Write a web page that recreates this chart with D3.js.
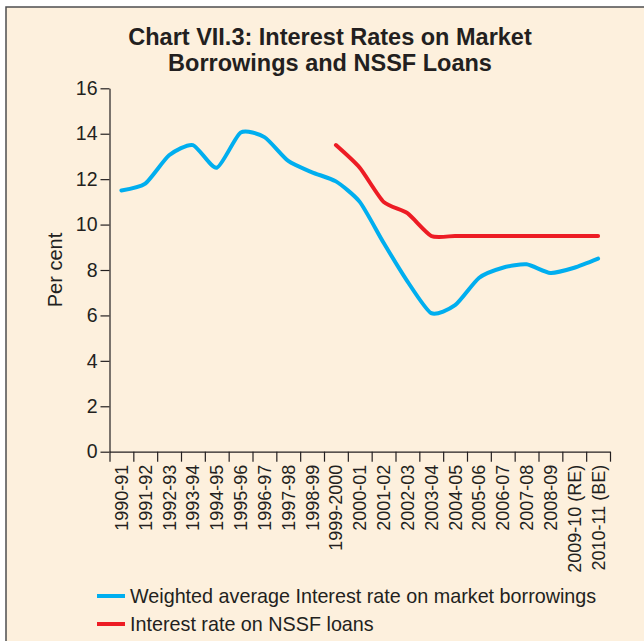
<!DOCTYPE html>
<html lang='en'>
<head>
    <title>Chart VII.3</title>
    <meta charset='UTF-8'>
    <script src='https://d3js.org/d3.v7.min.js'></script>
    <style>
      body { margin: 0; background: #fff; }
      text { font-family: 'Liberation Sans', Arial, sans-serif; fill: #231f20; }
    </style>
</head>
<body>
<svg width='644' height='641'></svg>
<script>
  // years on the x axis
  const years = ['1990-91', '1991-92', '1992-93', '1993-94', '1994-95', '1995-96', '1996-97',
    '1997-98', '1998-99', '1999-2000', '2000-01', '2001-02', '2002-03', '2003-04', '2004-05',
    '2005-06', '2006-07', '2007-08', '2008-09', '2009-10 (RE)', '2010-11 (BE)']

  // weighted average interest rate on market borrowings (per cent)
  const marketRate = [11.5, 11.8, 13.05, 13.5, 12.5, 14.05, 13.85, 12.8, 12.3, 11.9, 11.0,
    9.2, 7.5, 6.1, 6.45, 7.65, 8.1, 8.25, 7.87, 8.1, 8.5]

  // interest rate on NSSF loans (per cent), starts 1999-2000
  const nssfRate = [null, null, null, null, null, null, null, null, null, 13.5, 12.5,
    11.0, 10.5, 9.5, 9.5, 9.5, 9.5, 9.5, 9.5, 9.5, 9.5]

  const yTicks = [0, 2, 4, 6, 8, 10, 12, 14, 16]

  const svg = d3.select('svg')

  // cream panel with frame running off the right and bottom
  svg.append('rect')
      .attr('x', 6).attr('y', 7)
      .attr('width', 660).attr('height', 660)
      .attr('fill', '#fdf0dd')
      .attr('stroke', '#4d4d4f').attr('stroke-width', 1.5)

  svg.append('text')
      .attr('x', 330).attr('y', 45)
      .attr('text-anchor', 'middle')
      .style('font-size', '23.5px').style('font-weight', 'bold')
      .text('Chart VII.3: Interest Rates on Market')
  svg.append('text')
      .attr('x', 330).attr('y', 71)
      .attr('text-anchor', 'middle')
      .style('font-size', '23.5px').style('font-weight', 'bold')
      .text('Borrowings and NSSF Loans')

  const x = d3.scaleBand().domain(years).range([109.5, 610])
  const y = d3.scaleLinear().domain([0, 16]).range([451.7, 88.3])
  const xEdge = d3.scaleLinear().domain([0, years.length]).range(x.range())

  // y axis
  const yAxis = svg.append('g')
      .attr('transform', 'translate(109.5,0)')
      .call(d3.axisLeft(y).tickValues(yTicks).tickSize(9).tickSizeOuter(0).tickPadding(3))
  yAxis.selectAll('text').style('font-size', '19.5px')

  // x axis: ticks at band edges, labels at band centres
  svg.append('g')
      .attr('transform', 'translate(0,451.7)')
      .call(d3.axisBottom(xEdge).tickValues(d3.range(years.length + 1)).tickSize(10)
        .tickSizeOuter(0).tickFormat(''))

  const xLabels = svg.append('g')
      .attr('transform', 'translate(0,451.7)')
      .call(d3.axisBottom(x).tickSize(0).tickPadding(0))
  xLabels.select('.domain').remove()
  xLabels.selectAll('text')
      .style('font-size', '18px')
      .attr('text-anchor', 'end')
      .attr('transform', 'rotate(-90)')
      .attr('x', -13).attr('y', 0).attr('dy', '0.36em')

  svg.selectAll('.domain, .tick line').attr('stroke', '#231f20').attr('stroke-width', 1.2)

  svg.append('text')
      .attr('transform', 'translate(62,270) rotate(-90)')
      .attr('text-anchor', 'middle')
      .style('font-size', '20px')
      .text('Per cent')

  const cx = i => x(years[i]) + x.bandwidth() / 2
  const line = d3.line()
      .defined(d => d.v != null)
      .x(d => cx(d.i))
      .y(d => y(d.v))
      .curve(d3.curveCardinal.tension(0.35))

  const series = [
    {values: marketRate, color: '#00aeef'},
    {values: nssfRate, color: '#ed1c24'}
  ]

  svg.selectAll('path.series').data(series).enter()
    .append('path').attr('class', 'series')
      .attr('d', s => line(s.values.map((v, i) => ({v, i})).filter(d => d.v != null)))
      .attr('fill', 'none').attr('stroke', s => s.color).attr('stroke-width', 4)
      .attr('stroke-linecap', 'round').attr('stroke-linejoin', 'round')

  // legend
  const legend = [
    {label: 'Weighted average Interest rate on market borrowings', color: '#00aeef'},
    {label: 'Interest rate on NSSF loans', color: '#ed1c24'}
  ]
  const lg = svg.selectAll('g.legend').data(legend).enter()
    .append('g').attr('class', 'legend')
      .attr('transform', (d, i) => `translate(97,${596 + i * 28})`)
  lg.append('line')
      .attr('x1', 0).attr('x2', 28)
      .attr('stroke', d => d.color).attr('stroke-width', 4)
  lg.append('text')
      .attr('x', 33).attr('dy', '0.35em')
      .style('font-size', '19.75px')
      .text(d => d.label)
</script>
</body>
</html>
